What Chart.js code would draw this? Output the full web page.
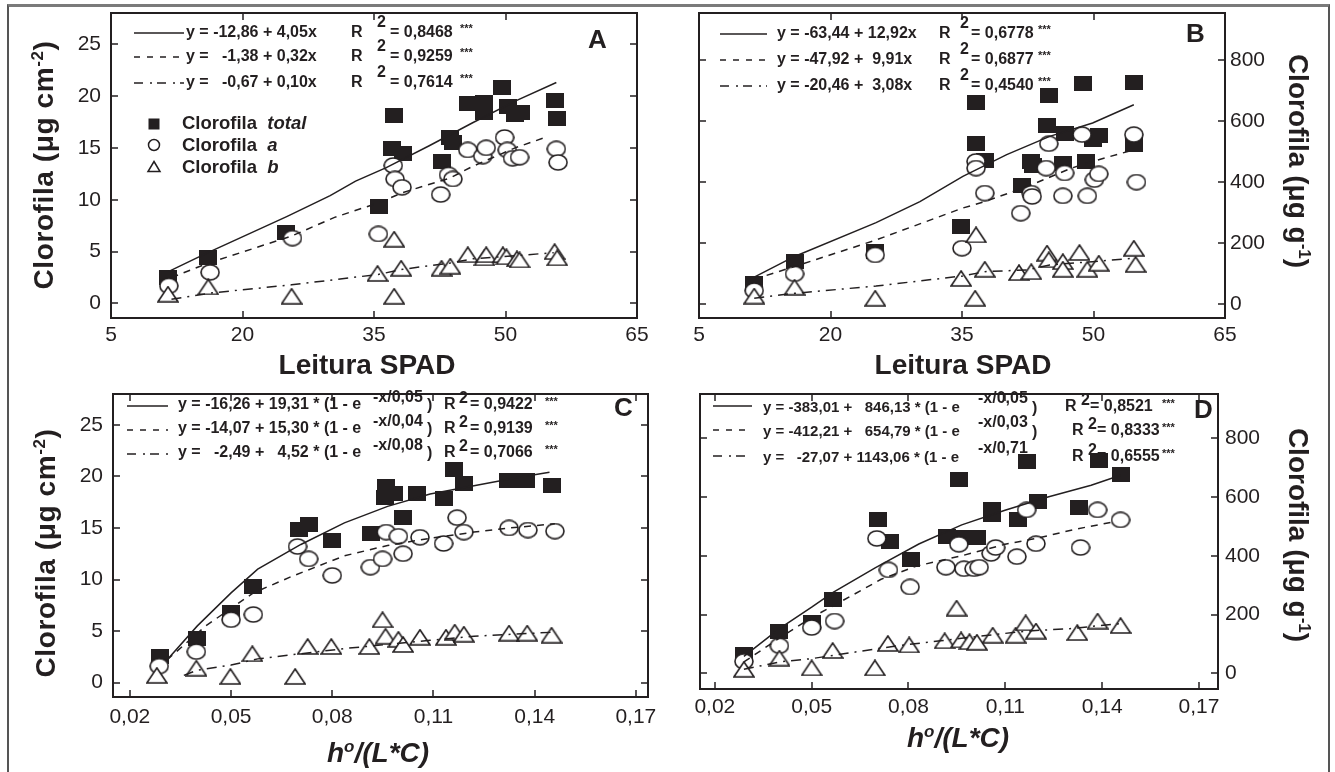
<!DOCTYPE html>
<html lang="pt">
<head>
<meta charset="UTF-8">
<title>Clorofila x Leitura SPAD e h°/(L*C)</title>
<style>
    body {
        margin: 0;
        width: 1335px;
        height: 772px;
        overflow: hidden;
        position: relative;
        background: #ffffff;
        font-family: "Liberation Sans", Arial, Helvetica, sans-serif;
        color: #231f20;
    }
    .frame {
        position: absolute;
        left: 7px;
        top: 4px;
        width: 1319px;
        height: 800px;
        border-top: 3px solid #7a7a7a;
        border-left: 2px solid #555;
        border-right: 2px solid #555;
    }
    canvas { position: absolute; }
    .t {
        position: absolute;
        white-space: pre;
        line-height: 1;
        transform: translateY(-50%);
        font-weight: bold;
    }
    .eq { font-size: 16px; }
    .eqs { font-size: 15px; }
    .stars { font-size: 11px; }
    .key { font-size: 18.5px; }
    .letter { font-size: 26px; }
    .axt {
        position: absolute;
        white-space: nowrap;
        font-size: 28px;
        font-weight: bold;
        line-height: 1;
    }
    .axt.wide { letter-spacing: 0.6px; }
    .axt sup { font-size: 17px; vertical-align: 0.6em; line-height: 0; }
    svg { position: absolute; left: 0; top: 0; }
</style>
</head>
<body>
<div class="frame"></div>
<script src="https://cdn.jsdelivr.net/npm/chart.js"></script>
<script>
    // ---------- data ----------
    var spadTicks = [5, 20, 35, 50, 65];
    var spadTickLabels = ['5', '20', '35', '50', '65'];
    var hueTicks = [0.02, 0.05, 0.08, 0.11, 0.14, 0.17];
    var hueTickLabels = ['0,02', '0,05', '0,08', '0,11', '0,14', '0,17'];
    var areaTicks = [0, 5, 10, 15, 20, 25];
    var areaTickLabels = ['0', '5', '10', '15', '20', '25'];
    var massTicks = [0, 200, 400, 600, 800];
    var massTickLabels = ['0', '200', '400', '600', '800'];

    // A: SPAD vs ug cm-2
    var spadTotalArea = [[11.5,2.5],[16.1,4.4],[25.0,6.8],[35.6,9.3],[37.3,18.1],[37.1,14.9],[38.3,14.5],[42.7,13.7],[43.7,16.0],[44.0,15.5],[45.7,19.3],[47.6,19.4],[47.5,18.4],[49.6,20.8],[50.3,19.0],[51.1,18.2],[51.8,18.4],[55.6,19.6],[55.9,17.8]];
    var spadAArea = [[11.6,1.7],[16.3,3.0],[25.7,6.3],[35.5,6.7],[37.2,13.3],[37.4,12.0],[38.2,11.2],[42.6,10.5],[43.5,12.4],[44.0,12.0],[45.7,14.8],[47.4,14.2],[47.8,15.0],[49.9,16.0],[50.2,14.8],[50.8,14.0],[51.6,14.1],[55.8,14.9],[56.0,13.6]];
    var spadBArea = [[11.5,0.9],[16.1,1.6],[25.6,0.7],[35.4,2.9],[37.3,6.2],[37.3,0.7],[38.1,3.4],[42.7,3.4],[43.7,3.6],[45.7,4.7],[47.6,4.4],[47.8,4.7],[49.7,4.7],[50.1,4.5],[51.3,4.3],[51.6,4.2],[55.6,5.0],[55.9,4.4]];
    var fitSpadTotalArea = [[11.6,3.1],[15.8,4.8],[25.1,8.4],[30.0,10.4],[32.9,11.8],[36.4,13.1],[41.3,15.2],[46.2,17.4],[51.1,19.5],[55.8,21.3]];
    var fitSpadAArea = [[11.9,2.5],[15.8,3.8],[25.6,6.5],[30.5,8.3],[35.5,9.7],[38.3,10.7],[43.7,12.1],[46.2,13.2],[51.1,15.0],[54.5,16.0]];
    var fitSpadBArea = [[11.9,0.4],[16.3,1.0],[25.6,1.8],[35.5,2.8],[38.3,3.3],[43.7,3.9],[46.2,4.3],[51.1,4.6],[55.5,4.9]];

    // B: SPAD vs ug g-1
    var spadTotalMass = [[11.3,66],[15.9,141],[25.1,172],[34.9,254],[36.6,660],[36.6,526],[37.6,471],[41.9,389],[42.9,468],[43.1,455],[44.7,585],[44.9,684],[46.8,561],[46.5,462],[48.8,722],[49.2,466],[49.9,539],[50.6,552],[54.6,728],[54.6,525]];
    var spadAMass = [[11.3,44],[15.9,99],[25.1,161],[35.0,183],[36.6,468],[36.6,446],[37.6,364],[41.7,298],[42.9,364],[43.0,353],[44.9,526],[44.6,446],[46.7,430],[46.5,355],[48.7,556],[49.3,355],[50.1,408],[50.6,427],[54.6,556],[54.9,400]];
    var spadBMass = [[11.3,26],[15.9,55],[25.1,19],[34.9,84],[36.6,227],[36.5,19],[37.6,114],[41.5,103],[42.9,106],[44.7,167],[44.9,145],[46.5,139],[46.5,114],[48.4,169],[49.3,114],[50.6,134],[54.6,183],[54.8,130]];
    var fitSpadTotalMass = [[11.3,88],[15.9,156],[25.2,267],[30.2,336],[35.1,419],[40.1,490],[45.0,550],[49.9,594],[54.6,654]];
    var fitSpadAMass = [[11.3,81],[15.9,123],[25.2,210],[35.1,315],[37.6,336],[42.5,386],[47.5,446],[49.9,468],[54.6,506]];
    var fitSpadBMass = [[11.3,19],[15.9,35],[25.2,59],[35.1,92],[37.6,106],[42.5,112],[45.0,128],[49.9,139],[54.6,150]];

    // C: h/(L*C) vs ug cm-2
    var hueTotalArea = [[0.029,2.5],[0.040,4.3],[0.050,6.8],[0.0566,9.3],[0.070,14.9],[0.073,15.3],[0.080,13.8],[0.0915,14.5],[0.096,19.0],[0.0957,18.0],[0.0983,18.3],[0.101,16.0],[0.105,18.3],[0.113,17.9],[0.116,20.7],[0.119,19.3],[0.132,19.6],[0.1375,19.6],[0.145,19.1]];
    var hueAArea = [[0.0287,1.6],[0.0397,3.0],[0.050,6.1],[0.0566,6.6],[0.0697,13.2],[0.073,12.0],[0.080,10.4],[0.0913,11.2],[0.0949,12.0],[0.096,14.6],[0.0996,14.2],[0.101,12.5],[0.106,14.1],[0.113,13.5],[0.117,16.0],[0.119,14.6],[0.1324,15.0],[0.138,14.8],[0.146,14.7]];
    var hueBArea = [[0.028,0.7],[0.0397,1.4],[0.0498,0.6],[0.0563,2.8],[0.069,0.6],[0.0727,3.5],[0.0797,3.5],[0.091,3.5],[0.0949,6.1],[0.0958,4.5],[0.0996,4.2],[0.101,3.7],[0.106,4.4],[0.1137,4.4],[0.1163,4.9],[0.119,4.7],[0.1324,4.8],[0.1378,4.8],[0.145,4.6]];
    var fitHueTotalArea = [[0.031,2.2],[0.040,5.5],[0.050,8.7],[0.0579,11.0],[0.0707,13.4],[0.0836,15.5],[0.0964,17.1],[0.109,18.3],[0.122,19.1],[0.135,19.9],[0.1444,20.4]];
    var fitHueAArea = [[0.031,2.2],[0.0425,5.5],[0.0566,8.7],[0.068,10.3],[0.0836,12.3],[0.0964,13.3],[0.109,14.0],[0.122,14.6],[0.1324,15.0],[0.146,15.4]];
    var fitHueBArea = [[0.036,0.7],[0.040,1.2],[0.050,1.7],[0.0579,2.3],[0.0707,2.8],[0.0836,3.3],[0.0964,3.7],[0.109,4.1],[0.122,4.5],[0.1465,4.9]];

    // D: h/(L*C) vs ug g-1
    var hueTotalMass = [[0.029,63],[0.040,141],[0.050,174],[0.0565,250],[0.0705,522],[0.0742,448],[0.0809,389],[0.0919,467],[0.0956,659],[0.097,461],[0.1012,463],[0.1059,539],[0.1059,556],[0.1139,522],[0.1166,719],[0.120,583],[0.1329,563],[0.139,724],[0.1457,678]];
    var hueAMass = [[0.029,41],[0.040,94],[0.050,156],[0.0571,178],[0.0702,459],[0.0738,352],[0.0805,294],[0.0916,361],[0.0956,439],[0.0972,356],[0.1003,356],[0.1019,361],[0.1056,408],[0.107,428],[0.1136,397],[0.1166,556],[0.1195,441],[0.1333,428],[0.1386,556],[0.1457,522]];
    var hueBMass = [[0.029,14],[0.040,52],[0.050,19],[0.0565,78],[0.0696,19],[0.0736,102],[0.0802,97],[0.0912,111],[0.0949,222],[0.0963,114],[0.0989,108],[0.1012,106],[0.1061,130],[0.1132,130],[0.1163,172],[0.1195,144],[0.1323,139],[0.1386,178],[0.1457,163]];
    var fitHueTotalMass = [[0.029,58],[0.040,152],[0.050,225],[0.0565,275],[0.0698,360],[0.0832,440],[0.0965,505],[0.1099,555],[0.1232,600],[0.1366,640],[0.1457,674]];
    var fitHueAMass = [[0.029,39],[0.040,120],[0.050,190],[0.0625,265],[0.0715,320],[0.0825,365],[0.0965,400],[0.1099,439],[0.1205,461],[0.1312,489],[0.1433,515]];
    var fitHueBMass = [[0.029,14],[0.040,39],[0.0498,50],[0.0631,72],[0.0765,94],[0.0899,111],[0.1032,128],[0.1166,144],[0.1299,152],[0.146,170]];

    // legend texts
    var eqSpadArea = ['y = -12,86 + 4,05x', 'y =   -1,38 + 0,32x', 'y =   -0,67 + 0,10x'];
    var r2SpadArea = ['0,8468', '0,9259', '0,7614'];
    var eqSpadMass = ['y = -63,44 + 12,92x', 'y = -47,92 +  9,91x', 'y = -20,46 +  3,08x'];
    var r2SpadMass = ['0,6778', '0,6877', '0,4540'];
    var eqHueArea = ['y = -16,26 + 19,31 * (1 - e', 'y = -14,07 + 15,30 * (1 - e', 'y =   -2,49 +   4,52 * (1 - e'];
    var expHueArea = ['-x/0,05', '-x/0,04', '-x/0,08'];
    var r2HueArea = ['0,9422', '0,9139', '0,7066'];
    var eqHueMass = ['y = -383,01 +   846,13 * (1 - e', 'y = -412,21 +   654,79 * (1 - e', 'y =   -27,07 + 1143,06 * (1 - e'];
    var expHueMass = ['-x/0,05', '-x/0,03', '-x/0,71'];
    var r2HueMass = ['0,8521', '0,8333', '0,6555'];

    var INK = '#231f20';
    var FONT = '"Liberation Sans", Arial, Helvetica, sans-serif';

    // marker sprites (the printed markers are a bit wider than tall)
    function sprite(w, h, draw) {
        var c = document.createElement('canvas');
        c.width = w;
        c.height = h;
        draw(c.getContext('2d'), w, h);
        return c;
    }
    var SQ = sprite(18, 15, function (g, w, h) {
        g.fillStyle = INK;
        g.fillRect(0, 0, w, h);
    });
    var CIRC = sprite(20, 17, function (g, w, h) {
        g.fillStyle = '#fff';
        g.strokeStyle = INK;
        g.lineWidth = 1.6;
        g.beginPath();
        g.ellipse(w / 2, h / 2, w / 2 - 1, h / 2 - 1, 0, 0, Math.PI * 2);
        g.fill();
        g.stroke();
    });
    var TRI = sprite(22, 17, function (g, w, h) {
        g.fillStyle = '#fff';
        g.strokeStyle = INK;
        g.lineWidth = 1.6;
        g.beginPath();
        g.moveTo(w / 2, 1);
        g.lineTo(w - 1, h - 1);
        g.lineTo(1, h - 1);
        g.closePath();
        g.fill();
        g.stroke();
    });

    // box + inward ticks on all four sides
    var framePlugin = {
        id: 'frame',
        afterDatasetsDraw: function (chart) {
            var ctx = chart.ctx, a = chart.chartArea;
            var sx = chart.scales.x, sy = chart.scales.y;
            ctx.save();
            ctx.strokeStyle = INK;
            ctx.lineWidth = 1.5;
            ctx.beginPath();
            sx.ticks.forEach(function (t) {
                var px = Math.round(sx.getPixelForValue(t.value));
                if (px <= a.left + 2 || px >= a.right - 2) return;
                ctx.moveTo(px, a.bottom); ctx.lineTo(px, a.bottom - 7);
                ctx.moveTo(px, a.top); ctx.lineTo(px, a.top + 7);
            });
            sy.ticks.forEach(function (t) {
                var py = Math.round(sy.getPixelForValue(t.value));
                ctx.moveTo(a.left, py); ctx.lineTo(a.left + 7, py);
                ctx.moveTo(a.right, py); ctx.lineTo(a.right - 7, py);
            });
            ctx.stroke();
            ctx.lineWidth = 2;
            ctx.strokeRect(a.left, a.top, a.right - a.left, a.bottom - a.top);
            ctx.restore();
        }
    };

    function pts(arr) {
        return arr.map(function (p) { return { x: p[0], y: p[1] }; });
    }

    function panel(box, area, x, y, marks, fits) {
        var cv = document.createElement('canvas');
        cv.width = box.w;
        cv.height = box.h;
        cv.style.left = box.left + 'px';
        cv.style.top = box.top + 'px';
        document.body.appendChild(cv);

        var yRight = y.position === 'right';
        var yWidth = yRight ? box.left + box.w - area.right : area.left - box.left;
        var xHeight = box.top + box.h - area.bottom;
        var lineBase = { showLine: true, pointRadius: 0, pointHoverRadius: 0, borderColor: INK, borderWidth: 1.5, tension: 0 };

        new Chart(cv, {
            type: 'scatter',
            data: {
                datasets: [
                    Object.assign({ data: pts(fits[0]), order: 1 }, lineBase),
                    Object.assign({ data: pts(fits[1]), order: 2, borderDash: [7, 6] }, lineBase),
                    Object.assign({ data: pts(fits[2]), order: 3, borderDash: [10, 6, 2, 6] }, lineBase),
                    { data: pts(marks[2]), pointStyle: TRI, pointRadius: 8, order: 4 },
                    { data: pts(marks[1]), pointStyle: CIRC, pointRadius: 8, order: 5 },
                    { data: pts(marks[0]), pointStyle: SQ, pointRadius: 8, order: 6 }
                ]
            },
            options: {
                responsive: false,
                animation: false,
                events: [],
                layout: {
                    padding: {
                        left: yRight ? area.left - box.left : 0,
                        right: yRight ? 0 : box.left + box.w - area.right,
                        top: area.top - box.top,
                        bottom: 0
                    }
                },
                plugins: { legend: { display: false }, tooltip: { enabled: false } },
                scales: {
                    x: {
                        type: 'linear',
                        position: 'bottom',
                        min: x.min,
                        max: x.max,
                        grid: { display: false, drawTicks: false },
                        border: { display: false },
                        ticks: {
                            font: { family: FONT, size: 21 },
                            color: INK,
                            padding: x.pad,
                            autoSkip: false,
                            maxRotation: 0,
                            callback: function (v, i) { return x.labels[i]; }
                        },
                        afterBuildTicks: function (s) {
                            s.ticks = x.ticks.map(function (v) { return { value: v }; });
                        },
                        afterFit: function (s) {
                            s.height = xHeight;
                            s.paddingLeft = 0;
                            s.paddingRight = 0;
                        }
                    },
                    y: {
                        type: 'linear',
                        position: y.position,
                        min: y.min,
                        max: y.max,
                        grid: { display: false, drawTicks: false },
                        border: { display: false },
                        ticks: {
                            font: { family: FONT, size: 21 },
                            color: INK,
                            padding: y.pad,
                            autoSkip: false,
                            callback: function (v, i) { return y.labels[i]; }
                        },
                        afterBuildTicks: function (s) {
                            s.ticks = y.ticks.map(function (v) { return { value: v }; });
                        },
                        afterFit: function (s) {
                            s.width = yWidth;
                            s.paddingTop = 0;
                            s.paddingBottom = 0;
                        }
                    }
                }
            },
            plugins: [framePlugin]
        });
    }

    // A
    panel({ left: 0, top: 0, w: 660, h: 385 }, { left: 111, top: 13, right: 637, bottom: 318 },
        { min: 5, max: 65, ticks: spadTicks, labels: spadTickLabels, pad: 5 },
        { min: -1.4, max: 28, ticks: areaTicks, labels: areaTickLabels, pad: 10, position: 'left' },
        [spadTotalArea, spadAArea, spadBArea], [fitSpadTotalArea, fitSpadAArea, fitSpadBArea]);
    // B
    panel({ left: 660, top: 0, w: 675, h: 385 }, { left: 699, top: 13, right: 1225, bottom: 318 },
        { min: 5, max: 65, ticks: spadTicks, labels: spadTickLabels, pad: 5 },
        { min: -46, max: 955, ticks: massTicks, labels: massTickLabels, pad: 5, position: 'right' },
        [spadTotalMass, spadAMass, spadBMass], [fitSpadTotalMass, fitSpadAMass, fitSpadBMass]);
    // C
    panel({ left: 0, top: 385, w: 660, h: 387 }, { left: 113, top: 388, right: 648, bottom: 697 },
        { min: 0.015, max: 0.1736, ticks: hueTicks, labels: hueTickLabels, pad: 8 },
        { min: -1.4, max: 28, ticks: areaTicks, labels: areaTickLabels, pad: 10, position: 'left' },
        [hueTotalArea, hueAArea, hueBArea], [fitHueTotalArea, fitHueAArea, fitHueBArea]);
    // D
    panel({ left: 660, top: 385, w: 675, h: 387 }, { left: 700, top: 388, right: 1218, bottom: 689 },
        { min: 0.0154, max: 0.1759, ticks: hueTicks, labels: hueTickLabels, pad: 6 },
        { min: -53, max: 950, ticks: massTicks, labels: massTickLabels, pad: 7, position: 'right' },
        [hueTotalMass, hueAMass, hueBMass], [fitHueTotalMass, fitHueAMass, fitHueBMass]);

    // ---------- text and legend keys ----------
    function txt(x, y, s, cls, html) {
        var d = document.createElement('div');
        d.className = 't ' + cls;
        d.style.left = x + 'px';
        d.style.top = y + 'px';
        if (html) d.innerHTML = s; else d.textContent = s;
        document.body.appendChild(d);
        return d;
    }
    function title(cx, cy, html, rot, extraClass) {
        var d = document.createElement('div');
        d.className = 'axt' + (extraClass ? ' ' + extraClass : '');
        d.style.left = cx + 'px';
        d.style.top = cy + 'px';
        d.style.transform = 'translate(-50%, -50%) rotate(' + rot + 'deg)';
        d.innerHTML = html;
        document.body.appendChild(d);
    }

    var NS = 'http://www.w3.org/2000/svg';
    var svg = document.createElementNS(NS, 'svg');
    svg.setAttribute('width', 1335);
    svg.setAttribute('height', 772);
    document.body.appendChild(svg);
    function el(name, attrs) {
        var e = document.createElementNS(NS, name);
        for (var k in attrs) e.setAttribute(k, attrs[k]);
        svg.appendChild(e);
        return e;
    }
    function keyLine(x1, x2, y, dash) {
        var a = { x1: x1, x2: x2, y1: y, y2: y, stroke: INK, 'stroke-width': 1.5 };
        if (dash) a['stroke-dasharray'] = dash;
        el('line', a);
    }
    var dashes = [null, '6 7', '9 7 2 5'];

    // A legend
    [32, 56, 82].forEach(function (ry, i) {
        keyLine(134, 184, ry + 1, dashes[i]);
        txt(186, ry, eqSpadArea[i], 'eq');
        txt(351, ry, 'R', 'eq');
        txt(377, ry - 10, '2', 'eq');
        txt(390, ry, '= ' + r2SpadArea[i], 'eq');
        txt(460, ry - 4, '***', 'stars');
    });
    // B legend
    [33, 59, 85].forEach(function (ry, i) {
        keyLine(720, 767, ry + 1, dashes[i]);
        txt(777, ry, eqSpadMass[i], 'eq');
        txt(939, ry, 'R', 'eq');
        txt(960, ry - 10, '2', 'eq');
        txt(971, ry, '= ' + r2SpadMass[i], 'eq');
        txt(1038, ry - 4, '***', 'stars');
    });
    // C legend
    [404, 428, 452].forEach(function (ry, i) {
        keyLine(127, 168, ry + 2, dashes[i]);
        txt(178, ry, eqHueArea[i], 'eq');
        txt(373, ry - 7, expHueArea[i], 'eq');
        txt(427, ry + 1, ')', 'eq');
        txt(444, ry, 'R', 'eq');
        txt(459, ry - 6, '2', 'eq');
        txt(470, ry, '= ' + r2HueArea[i], 'eq');
        txt(545, ry - 3, '***', 'stars');
    });
    // D legend
    [406, 430, 456].forEach(function (ry, i) {
        keyLine(713, 752, ry, dashes[i]);
        txt(763, ry, eqHueMass[i], 'eqs');
        txt(978, ry - 8, expHueMass[i], 'eq');
        if (i < 2) txt(1032, ry + 2, ')', 'eq');
        var rx = i === 0 ? 1065 : 1072;
        txt(rx, ry, 'R', 'eq');
        txt(rx + 16, ry - 6, '2', 'eq');
        txt(rx + 25, ry, '= ' + r2HueMass[i], 'eq');
        txt(1162, ry - 3, '***', 'stars');
    });

    // marker key in A
    el('rect', { x: 148.5, y: 118.5, width: 11, height: 11, fill: INK });
    el('ellipse', { cx: 154, cy: 145, rx: 5.5, ry: 5.5, fill: '#fff', stroke: INK, 'stroke-width': 1.5 });
    el('path', { d: 'M154 161.5 L160 171.5 L148 171.5 Z', fill: '#fff', stroke: INK, 'stroke-width': 1.5 });
    txt(182, 123, 'Clorofila  <i>total</i>', 'key', true);
    txt(182, 145, 'Clorofila  <i>a</i>', 'key', true);
    txt(182, 167, 'Clorofila  <i>b</i>', 'key', true);

    // panel letters
    txt(588, 39, 'A', 'letter');
    txt(1186, 33, 'B', 'letter');
    txt(614, 407, 'C', 'letter');
    txt(1194, 409, 'D', 'letter');

    // axis titles
    title(44, 165, 'Clorofila (&mu;g cm<sup>-2</sup>)', -90, 'wide');
    title(46, 553, 'Clorofila (&mu;g cm<sup>-2</sup>)', -90, 'wide');
    title(1298, 161, 'Clorofila (&mu;g g<sup>-1</sup>)', 90);
    title(1298, 535, 'Clorofila (&mu;g g<sup>-1</sup>)', 90);
    title(367, 365, 'Leitura SPAD', 0);
    title(963, 365, 'Leitura SPAD', 0);
    title(378, 753, '<i>h<sup>o</sup>/(L*C)</i>', 0);
    title(958, 738, '<i>h<sup>o</sup>/(L*C)</i>', 0);
</script>
</body>
</html>
